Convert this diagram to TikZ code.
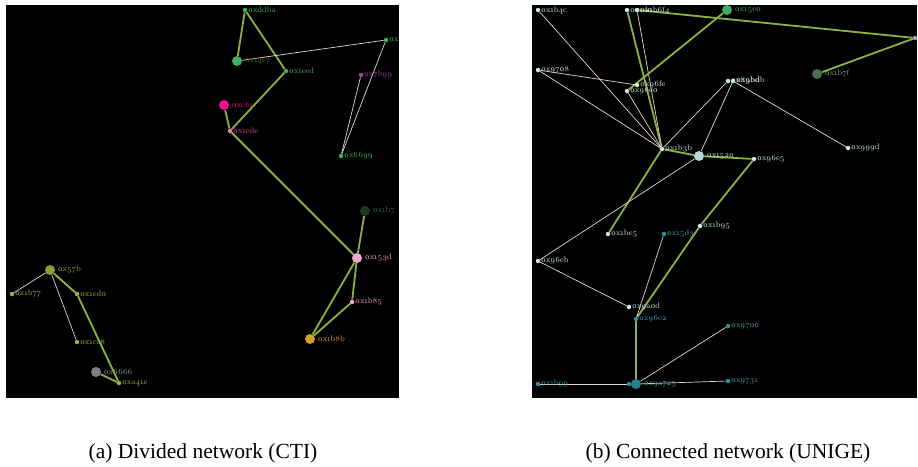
\documentclass[tikz,border=0pt]{standalone}
\usepackage{fontspec}
\setmainfont{Liberation Serif}
\newfontfamily\lblfont[Numbers=OldStyle]{Latin Modern Roman}

\definecolor{grn}{HTML}{8CB43C}
\definecolor{pal}{HTML}{E8D4D0}
\definecolor{mint}{HTML}{CCE8E0}
\definecolor{teal}{HTML}{2A8C9C}
\definecolor{leaf}{HTML}{40B060}
\definecolor{olive}{HTML}{A0B040}
\definecolor{rose}{HTML}{F0A8D0}
\definecolor{hot}{HTML}{F0108A}
\definecolor{plum}{HTML}{A040A0}
\definecolor{pine}{HTML}{1A3A28}
\definecolor{gold}{HTML}{D0A030}
\definecolor{moss}{HTML}{4A7052}

\pgfdeclarelayer{panel}
\pgfdeclarelayer{links}
\pgfsetlayers{panel,links,main}

\tikzset{
  edgeg/.style={draw=grn, line width=1.8pt},
  edgew/.style={draw=pal, line width=0.7pt},
  dot/.style={circle, inner sep=0pt, minimum size=4.5pt, draw=none},
  bigdot/.style={circle, inner sep=0pt, minimum size=10pt, draw=none},
  lbl/.style={font=\lblfont\fontsize{8}{9}\selectfont, inner sep=0.5pt},
  caption/.style={font=\fontsize{21.5}{25}\selectfont, anchor=base, inner sep=0pt}
}

\begin{document}
\begin{tikzpicture}[x=1pt, y=-1pt]
\useasboundingbox (0,0) rectangle (918,466);
\begin{pgfonlayer}{panel}
\fill[white] (0,0) rectangle (918,466);
\fill[black] (6,5) rectangle (399,398);
\fill[black] (532,5) rectangle (917,398);
\end{pgfonlayer}

% ---------- panel (a): divided network ----------
\begin{scope}
\clip (6,5) rectangle (399,398);
\node[dot, fill=leaf, label={[lbl,text=leaf]right:0xddba}] (ddba) at (245,10) {};
\node[bigdot, fill=leaf, label={[lbl,text=leaf!70!black,label distance=2pt]right:0x14e7}] (a14e7) at (237,61) {};
\node[dot, fill=leaf, label={[lbl,text=leaf]right:0x1eed}] (eed) at (286,71) {};
\node[dot, fill=leaf, label={[lbl,text=leaf]right:0x}] (aox) at (386,40) {};
\node[dot, fill=plum, label={[lbl,text=plum]right:0x7b99}] (b99) at (361,75) {};
\node[dot, fill=leaf, label={[lbl,text=leaf]right:0x6699}] (a6699) at (341,156) {};
\node[bigdot, fill=hot, label={[lbl,text=hot,label distance=2pt]right:0xcb1}] (cb1) at (224,105) {};
\node[dot, fill=rose!70!hot, label={[lbl,text=hot!80!white]right:0x1ede}] (ede) at (230,131) {};
\node[bigdot, fill=pine, label={[lbl,text=pine!80!white,label distance=2pt]right:0x1b7}] (b7) at (365,211) {};
\node[bigdot, fill=rose, label={[lbl,text=rose,label distance=2pt]right:0x153d}] (d153) at (357,258) {};
\node[dot, fill=rose, label={[lbl,text=rose]right:0x1b85}] (b85) at (352,302) {};
\node[bigdot, fill=gold, label={[lbl,text=gold,label distance=2pt]right:0x1b8b}] (b8b) at (310,339) {};
\node[bigdot, fill=olive!90!black, label={[lbl,text=olive,label distance=2pt]right:0x57b}] (a57b) at (50,270) {};
\node[dot, fill=olive, label={[lbl,text=olive]right:0x1b77}] (b77) at (12,294) {};
\node[dot, fill=olive, label={[lbl,text=olive]right:0x1ed0}] (ed0) at (77,294) {};
\node[dot, fill=olive, label={[lbl,text=olive]right:0x1cc8}] (cc8) at (77,342) {};
\node[bigdot, fill=gray, label={[lbl,text=gray!80!white,label distance=2pt]right:0x6666}] (a6666) at (96,372) {};
\node[dot, fill=olive, label={[lbl,text=olive]right:0xa41e}] (a41e) at (119,383) {};
\end{scope}
% connectors of panel (a)
\begin{pgfonlayer}{links}
\draw[edgeg] (ddba) -- (a14e7);
\draw[edgeg] (ddba) -- (eed);
\draw[edgew] (a14e7) -- (aox);
\draw[edgew] (aox) -- (a6699);
\draw[edgew] (b99) -- (a6699);
\draw[edgeg] (eed) -- (ede);
\draw[edgeg] (cb1) -- (ede);
\draw[edgeg] (ede) -- (d153);
\draw[edgeg] (b7) -- (d153);
\draw[edgeg] (d153) -- (b8b);
\draw[edgeg] (d153) -- (b85);
\draw[edgeg] (b85) -- (b8b);
\draw[edgew] (a57b) -- (b77);
\draw[edgeg] (a57b) -- (ed0);
\draw[edgew] (a57b) -- (cc8);
\draw[edgeg] (ed0) -- (a41e);
\draw[edgeg] (a6666) -- (a41e);
\end{pgfonlayer}

% ---------- panel (b): connected network ----------
\begin{scope}
\clip (532,5) rectangle (917,398);
\node[dot, fill=mint, label={[lbl,text=mint]right:0x1b4c}] (b4c) at (538,10) {};
\node[dot, fill=mint, label={[lbl,text=mint]right:0x1d0}] (d0) at (627,10) {};
\node[dot, fill=mint, label={[lbl,text=mint]right:0x1b6f4}] (b6f4) at (637,10) {};
\node[bigdot, fill=leaf, label={[lbl,text=leaf,label distance=2pt]right:0x15e0}] (e15e0) at (727,10) {};
\node[dot, fill=gray!70!white, label={[lbl,text=mint]right:0x}] (bfar) at (915,38) {};
\node[bigdot, fill=moss, label={[lbl,text=gray!80!white,label distance=2pt]right:0x1b7f}] (b7f) at (817,74) {};
\node[dot, fill=mint, label={[lbl,text=mint]right:0x9708}] (b9708) at (538,70) {};
\node[dot, fill=mint, label={[lbl,text=mint]right:0x96fe}] (fe96) at (637,85) {};
\node[dot, fill=mint, label={[lbl,text=mint]right:0x96e0}] (e096) at (627,91) {};
\node[dot, fill=mint, label={[lbl,text=mint]right:0x89bd}] (bd89) at (728,81) {};
\node[dot, fill=mint, label={[lbl,text=mint]right:0x9bdb}] (db9b) at (733,81) {};
\node[dot, fill=mint, label={[lbl,text=mint]right:0x999d}] (b999d) at (848,148) {};
\node[dot, fill=mint, label={[lbl,text=mint]right:0x1b3b}] (b3b) at (662,149) {};
\node[bigdot, fill=mint!85!teal, label={[lbl,text=mint,label distance=2pt]right:0x1520}] (b1520) at (699,156) {};
\node[dot, fill=mint, label={[lbl,text=mint]right:0x96e5}] (e596) at (754,159) {};
\node[dot, fill=mint, label={[lbl,text=mint]right:0x1be5}] (be5) at (608,234) {};
\node[dot, fill=teal, label={[lbl,text=teal!85!white]right:0x15d3}] (d153b) at (664,234) {};
\node[dot, fill=mint, label={[lbl,text=mint]right:0x1b95}] (b95) at (700,226) {};
\node[dot, fill=mint, label={[lbl,text=mint]right:0x96eb}] (eb96) at (538,261) {};
\node[dot, fill=mint, label={[lbl,text=mint]right:0x9a0d}] (a0d) at (629,307) {};
\node[dot, fill=teal, label={[lbl,text=teal!85!white]right:0x96e2}] (e296) at (636,319) {};
\node[dot, fill=teal, label={[lbl,text=teal!85!white]right:0x9700}] (b9700) at (728,326) {};
\node[dot, fill=teal, label={[lbl,text=teal!85!white]right:0x9731}] (b9731) at (728,381) {};
\node[dot, fill=teal, label={[lbl,text=teal!85!white]right:0x1b99}] (b99b) at (538,384) {};
\node[dot, fill=teal] (c629) at (629,384) {};
\node[bigdot, fill=teal!90!black, label={[lbl,text=teal!85!white,label distance=2pt]right:0x9a725}] (a725) at (636,384) {};
\end{scope}
% connectors of panel (b)
\begin{pgfonlayer}{links}
\draw[edgew] (b4c) -- (b3b);
\draw[edgeg] (d0) -- (b3b);
\draw[edgew] (b6f4) -- (b3b);
\draw[edgeg] (b6f4) -- (bfar);
\draw[edgeg] (e15e0) -- (e096);
\draw[edgeg] (bfar) -- (b7f);
\draw[edgew] (b9708) -- (fe96);
\draw[edgew] (b9708) -- (b3b);
\draw[edgew] (e096) -- (b3b);
\draw[edgew] (b3b) -- (bd89);
\draw[edgew] (b1520) -- (db9b);
\draw[edgew] (db9b) -- (b999d);
\draw[edgeg] (b3b) -- (b1520);
\draw[edgeg] (b1520) -- (e596);
\draw[edgeg] (b3b) -- (be5);
\draw[edgew] (b1520) -- (eb96);
\draw[edgeg] (e596) -- (b95);
\draw[edgeg] (b95) -- (e296);
\draw[edgew] (eb96) -- (a0d);
\draw[edgew] (d153b) -- (e296);
\draw[edgeg] (e296) -- (a725);
\draw[edgew] (a725) -- (b9700);
\draw[edgew] (a725) -- (b9731);
\draw[edgew] (b99b) -- (c629);
\draw[edgew] (c629) -- (a725);
\end{pgfonlayer}

% ---------- captions ----------
\node[caption] (capa) at (203,458) {(a) Divided network (CTI)};
\node[caption] (capb) at (728,458) {(b) Connected network (UNIGE)};
\end{tikzpicture}
\end{document}
